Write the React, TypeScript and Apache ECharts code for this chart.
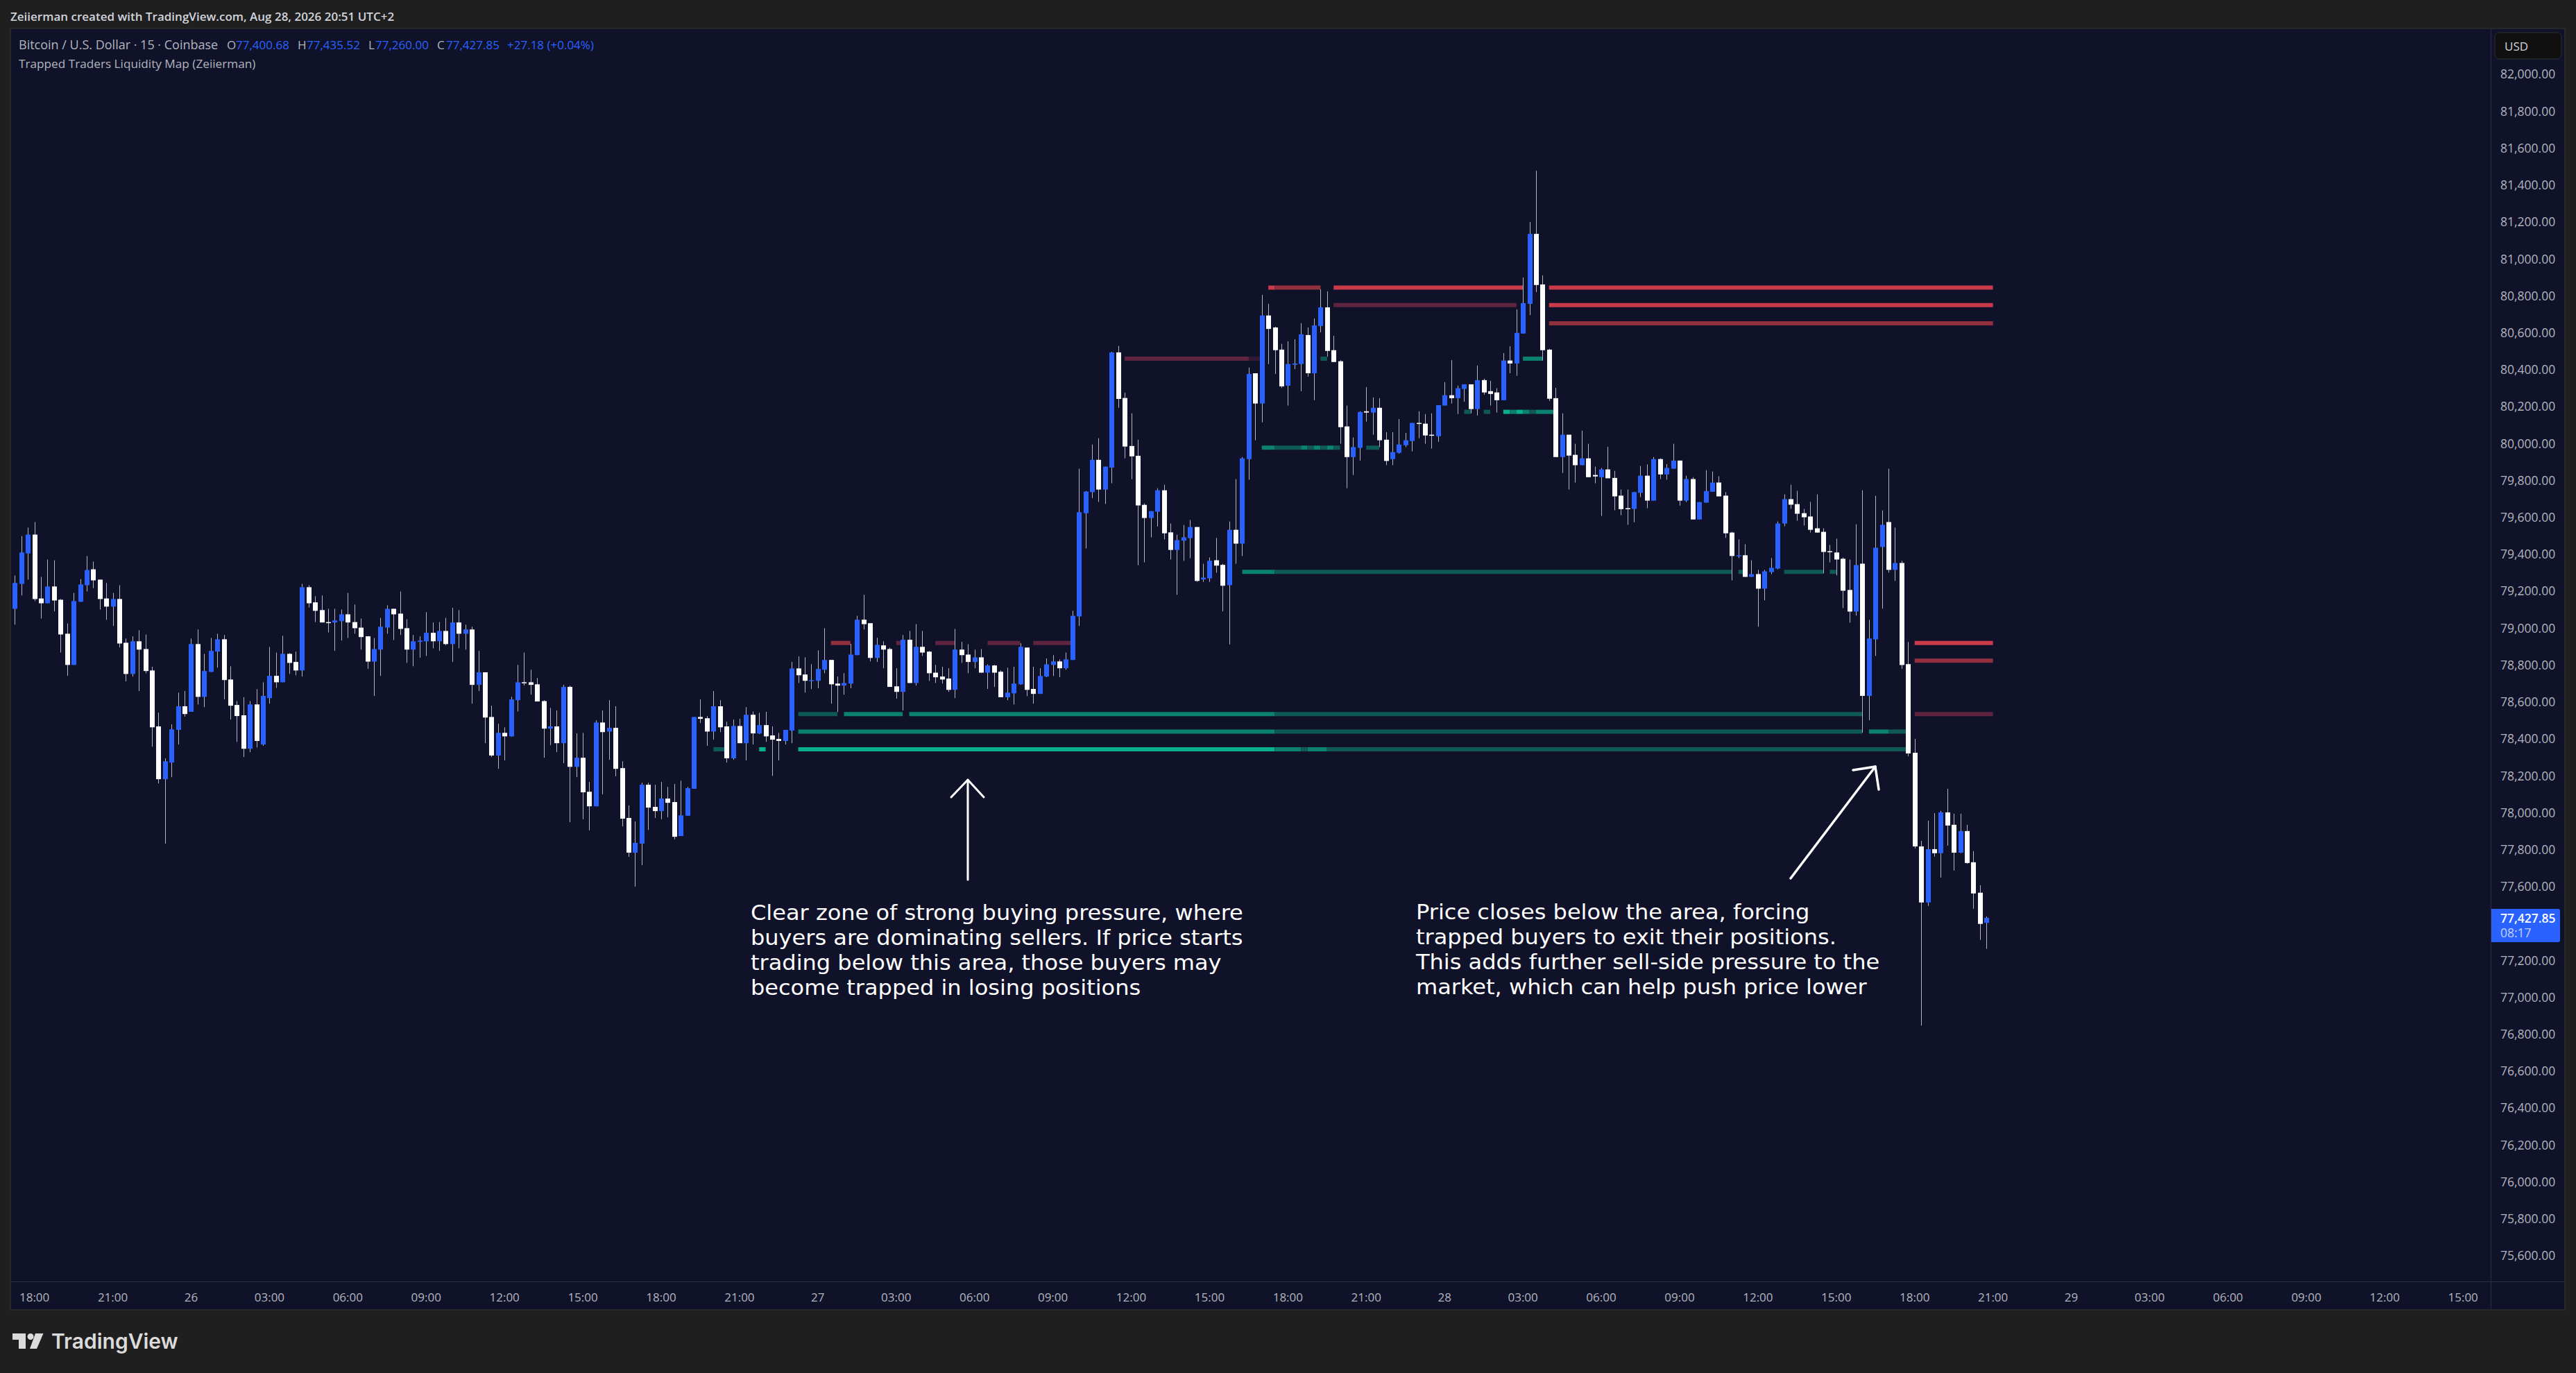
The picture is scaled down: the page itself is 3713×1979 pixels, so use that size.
import { useEffect, useRef } from "react";
import * as echarts from "echarts";

// 15 minute bars
const opens = [
  79102, 79237, 79402, 79504, 79158, 79132, 79223, 79151, 78967, 78798, 79140, 79230, 79316, 79260, 79158, 79114, 79155, 78918, 78749, 78926,
  78884, 78768, 78465, 78179, 78269, 78446, 78574, 78544, 78911, 78625, 78760, 78870, 78937, 78719, 78581, 78525, 78344, 78584, 78367, 78618,
  78739, 78704, 78858, 78814, 78768, 79219, 79137, 79095, 79030, 79028, 79035, 79072, 79030, 79000, 78953, 78816, 78881, 79000, 79102, 79076,
  78997, 78881, 78923, 78926, 78972, 78926, 78982, 78911, 79028, 78967, 78990, 78690, 78758, 78516, 78307, 78430, 78411, 78607, 78704, 78704,
  78693, 78602, 78453, 78465, 78374, 78679, 78246, 78295, 78111, 78032, 78486, 78437, 78457, 78239, 77969, 77781, 77830, 78149, 78029, 78006,
  78074, 78055, 77871, 77981, 78127, 78516, 78509, 78437, 78574, 78465, 78292, 78467, 78374, 78528, 78427, 78472, 78416, 78397, 78386, 78442,
  78779, 78746, 78712, 78712, 78772, 78825, 78697, 78686, 78697, 78851, 79043, 79024, 78836, 78904, 78884, 78682, 78652, 78934, 78700, 78896,
  78870, 78756, 78735, 78724, 78663, 78881, 78854, 78814, 78839, 78756, 78795, 78761, 78623, 78644, 78693, 78892, 78668, 78641, 78735, 78798,
  78817, 78780, 78825, 79061, 79620, 79734, 79909, 79748, 79867, 80491, 80244, 79984, 79931, 79665, 79594, 79628, 79744, 79516, 79421, 79471,
  79485, 79545, 79261, 79267, 79365, 79340, 79230, 79530, 79455, 79913, 80378, 80214, 80691, 80626, 80506, 80311, 80424, 80428, 80585, 80378,
  80634, 80735, 80503, 80443, 80090, 79924, 79974, 80172, 80165, 80191, 80018, 79913, 79947, 79988, 80011, 80109, 80105, 80045, 80037, 80203,
  80259, 80243, 80293, 80318, 80184, 80341, 80281, 80274, 80232, 80447, 80431, 80593, 80754, 81133, 80859, 80506, 80243, 79924, 80045, 79936,
  79880, 79917, 79827, 79815, 79857, 79811, 79715, 79647, 79643, 79730, 79823, 79688, 79913, 79830, 79861, 79905, 79688, 79805, 79586, 79677,
  79736, 79786, 79715, 79515, 79388, 79392, 79275, 79290, 79211, 79301, 79320, 79564, 79696, 79669, 79620, 79602, 79538, 79519, 79414, 79407,
  79373, 79204, 79087, 79346, 78630, 78937, 79437, 79572, 79313, 79350, 78802, 78322, 77815, 77511, 77800, 77778, 77999, 77932, 77781, 77898,
  77729, 77564, 77400.68,
];
const highs = [
  79282, 79496, 79542, 79572, 79275, 79369, 79365, 79155, 79023, 79188, 79263, 79388, 79358, 79260, 79242, 79188, 79230, 78941, 78953, 78986,
  78963, 78788, 78539, 78292, 78476, 78648, 78656, 78941, 78990, 78858, 78944, 78967, 78960, 78791, 78602, 78623, 78602, 78667, 78704, 78895,
  78865, 78956, 78862, 78870, 79237, 79230, 79170, 79174, 79102, 79102, 79098, 79188, 79125, 79049, 78953, 78944, 79053, 79121, 79102, 79196,
  79046, 78960, 78953, 79084, 79028, 79030, 79053, 79107, 79095, 79016, 79005, 78874, 78758, 78577, 78479, 78460, 78625, 78798, 78865, 78772,
  78727, 78607, 78565, 78551, 78690, 78686, 78427, 78430, 78164, 78498, 78551, 78607, 78574, 78276, 78037, 77950, 78160, 78160, 78149, 78164,
  78137, 78153, 78171, 78137, 78516, 78611, 78521, 78656, 78607, 78490, 78502, 78506, 78569, 78546, 78539, 78544, 78465, 78430, 78446, 78814,
  78844, 78839, 78802, 78877, 78997, 78825, 78735, 78753, 78912, 79064, 79178, 79024, 78945, 78926, 78892, 78780, 78960, 78982, 79019, 78982,
  78873, 78798, 78788, 78780, 78993, 78923, 78910, 78881, 78884, 78801, 78798, 78769, 78783, 78788, 78915, 78892, 78788, 78780, 78833, 78851,
  78828, 78865, 79091, 79861, 79740, 79992, 80026, 79872, 80494, 80526, 80273, 80161, 80018, 79673, 79631, 79755, 79774, 79564, 79503, 79556,
  79583, 79545, 79346, 79380, 79486, 79346, 79575, 79805, 79924, 80409, 80378, 80803, 80754, 80630, 80537, 80551, 80562, 80649, 80626, 80675,
  80833, 80822, 80581, 80449, 80203, 80030, 80172, 80303, 80247, 80243, 80059, 80059, 80130, 80055, 80109, 80172, 80157, 80161, 80205, 80330,
  80449, 80311, 80318, 80318, 80420, 80349, 80337, 80297, 80487, 80524, 80724, 80897, 81197, 81475, 80908, 80510, 80299, 80161, 80045, 79996,
  80067, 79996, 79872, 79865, 79980, 79849, 79748, 79748, 79736, 79876, 79884, 79924, 79917, 79886, 79996, 79905, 79823, 79815, 79680, 79853,
  79846, 79820, 79734, 79519, 79478, 79452, 79365, 79313, 79313, 79377, 79575, 79722, 79774, 79741, 79643, 79681, 79722, 79538, 79448, 79482,
  79380, 79369, 79560, 79744, 79042, 79714, 79635, 79861, 79542, 79362, 78922, 78397, 77845, 77954, 77995, 78007, 78127, 77992, 77992, 77932,
  77789, 77605, 77435.52,
];
const lows = [
  79016, 79174, 79260, 79144, 79049, 79132, 79088, 78865, 78739, 78798, 79140, 79196, 79214, 79098, 79042, 79009, 78893, 78709, 78735, 78656,
  78753, 78355, 78156, 77830, 78190, 78367, 78518, 78544, 78584, 78569, 78760, 78783, 78611, 78502, 78381, 78299, 78325, 78351, 78360, 78588,
  78674, 78704, 78749, 78742, 78735, 79109, 79030, 79028, 78974, 78874, 78930, 78944, 78967, 78881, 78776, 78630, 78739, 78967, 78933, 78960,
  78809, 78791, 78837, 78847, 78888, 78874, 78904, 78814, 78888, 78881, 78588, 78656, 78374, 78299, 78235, 78281, 78409, 78546, 78686, 78637,
  78600, 78295, 78363, 78325, 78265, 77946, 78190, 77962, 77902, 78032, 78097, 78284, 78195, 77923, 77758, 77597, 77713, 77904, 77969, 77962,
  77972, 77853, 77871, 77981, 78127, 78483, 78360, 78393, 78434, 78269, 78284, 78374, 78281, 78367, 78423, 78381, 78197, 78281, 78367, 78374,
  78700, 78648, 78667, 78671, 78753, 78588, 78543, 78637, 78671, 78851, 78990, 78817, 78814, 78780, 78679, 78615, 78551, 78700, 78686, 78847,
  78711, 78700, 78697, 78652, 78618, 78809, 78753, 78780, 78756, 78668, 78679, 78623, 78607, 78584, 78690, 78629, 78588, 78641, 78732, 78738,
  78732, 78772, 78825, 79009, 79429, 79702, 79681, 79670, 79782, 80191, 79917, 79804, 79338, 79354, 79489, 79548, 79478, 79369, 79178, 79362,
  79376, 79248, 79248, 79248, 79298, 79088, 78909, 79346, 79388, 79801, 80015, 80112, 80428, 80374, 80298, 80203, 80401, 80281, 80360, 80232,
  80600, 80468, 80439, 79996, 79755, 79827, 79905, 80116, 80045, 79978, 79880, 79880, 79943, 79978, 79955, 80026, 79996, 79970, 80007, 80203,
  80214, 80157, 80224, 80161, 80149, 80262, 80203, 80165, 80232, 80378, 80364, 80593, 80693, 80818, 80447, 80228, 79924, 79838, 79748, 79786,
  79880, 79815, 79782, 79605, 79809, 79636, 79609, 79557, 79571, 79707, 79647, 79688, 79805, 79801, 79861, 79661, 79680, 79586, 79586, 79677,
  79736, 79711, 79486, 79256, 79377, 79275, 79275, 79005, 79148, 79290, 79316, 79549, 79643, 79579, 79553, 79515, 79515, 79294, 79354, 79283,
  79106, 79027, 79065, 78431, 78498, 78847, 79103, 79298, 79253, 78776, 78303, 77804, 76844, 77492, 77759, 77646, 77819, 77684, 77778, 77721,
  77477, 77308, 77260,
];
const closes = [
  79242, 79407, 79504, 79155, 79132, 79223, 79147, 78963, 78798, 79144, 79234, 79312, 79256, 79155, 79114, 79155, 78914, 78749, 78926, 78881,
  78765, 78460, 78179, 78276, 78449, 78574, 78532, 78911, 78625, 78765, 78874, 78937, 78716, 78577, 78521, 78344, 78584, 78386, 78630, 78739,
  78704, 78858, 78809, 78768, 79219, 79132, 79091, 79028, 79028, 79039, 79072, 79028, 78997, 78949, 78816, 78884, 79005, 79102, 79072, 78993,
  78881, 78926, 78930, 78972, 78926, 78982, 78911, 79028, 78967, 78990, 78690, 78758, 78513, 78307, 78430, 78411, 78611, 78704, 78700, 78690,
  78600, 78453, 78465, 78374, 78679, 78246, 78295, 78108, 78032, 78486, 78434, 78457, 78235, 77965, 77781, 77834, 78149, 78025, 78006, 78074,
  78051, 77867, 77983, 78130, 78516, 78506, 78437, 78574, 78460, 78292, 78467, 78374, 78528, 78427, 78472, 78411, 78393, 78386, 78446, 78779,
  78742, 78712, 78716, 78776, 78825, 78693, 78686, 78700, 78854, 79043, 79019, 78836, 78907, 78881, 78679, 78652, 78934, 78700, 78896, 78865,
  78753, 78731, 78719, 78663, 78881, 78851, 78814, 78839, 78756, 78795, 78756, 78623, 78648, 78697, 78896, 78663, 78641, 78738, 78801, 78817,
  78780, 78828, 79064, 79625, 79737, 79909, 79748, 79872, 80491, 80239, 79981, 79928, 79662, 79594, 79631, 79744, 79511, 79421, 79474, 79489,
  79545, 79253, 79271, 79362, 79336, 79227, 79530, 79455, 79917, 80374, 80214, 80691, 80618, 80503, 80307, 80428, 80431, 80589, 80378, 80637,
  80735, 80499, 80439, 80086, 79924, 79978, 80168, 80165, 80191, 80015, 79903, 79951, 79992, 80015, 80109, 80105, 80041, 80041, 80205, 80259,
  80243, 80297, 80318, 80184, 80341, 80274, 80266, 80232, 80447, 80431, 80597, 80758, 81133, 80856, 80503, 80240, 79924, 80045, 79932, 79880,
  79917, 79815, 79819, 79857, 79809, 79711, 79642, 79642, 79734, 79823, 79688, 79913, 79830, 79865, 79905, 79688, 79805, 79586, 79680, 79740,
  79786, 79711, 79511, 79388, 79392, 79275, 79290, 79211, 79305, 79324, 79564, 79696, 79666, 79617, 79598, 79530, 79515, 79410, 79410, 79369,
  79200, 79087, 79339, 78630, 78941, 79433, 79557, 79313, 79350, 78798, 78318, 77815, 77511, 77800, 77778, 77999, 77928, 77781, 77898, 77725,
  77560, 77395, 77427.85,
];

// time axis: one label every 12 bars, starting at bar 3
const timeLabels = [
  "18:00", "21:00", "26", "03:00", "06:00", "09:00", "12:00", "15:00",
  "18:00", "21:00", "27", "03:00", "06:00", "09:00", "12:00", "15:00",
  "18:00", "21:00", "28", "03:00", "06:00", "09:00", "12:00", "15:00",
  "18:00", "21:00", "29", "03:00", "06:00", "09:00", "12:00", "15:00",
];
const slotCount = 380;
const hiddenPrices = [75400, 77400, 82200, 82400];

// liquidity levels: [from bar, to bar, strength]
const buyLevels: [number, [number, number, number][]][] = [
  [78341, [[107, 109, 0], [114, 115, 2], [120, 193, 2], [193, 197, 1], [197, 198, 0], [198, 201, 1], [201, 290, 0]]],
  [78437, [[120, 193, 1], [193, 283, 0], [284, 287, 1], [287, 290, 0]]],
  [78532, [[120, 126, 0], [127, 136, 1], [137, 193, 1], [193, 283, 0]]],
  [79302, [[188, 193, 1], [193, 263, 0], [264, 265, 0], [271, 277, 0], [278, 279, 0]]],
  [79975, [[191, 193, 1], [193, 197, 0], [197, 198, 1], [198, 199, 0], [199, 200, 1], [200, 201, 0], [201, 202, 1], [202, 203, 0], [207, 209, 0]]],
  [80169, [[222, 223, 0], [225, 226, 0], [228, 229, 2], [229, 230, 1], [230, 231, 2], [231, 232, 1], [232, 233, 0], [233, 236, 1]]],
  [80457, [[200, 201, 0], [231, 234, 1]]],
];
const sellLevels: [number, [number, number, number][]][] = [
  [78532, [[291, 303, 0]]],
  [78821, [[291, 303, 1]]],
  [78917, [[125, 128, 1], [135, 136, 0], [141, 144, 0], [149, 154, 0], [156, 162, 0], [291, 303, 2]]],
  [80457, [[170, 189, 0], [189, 191, 3]]],
  [80649, [[235, 303, 1]]],
  [80747, [[202, 230, 0], [235, 303, 2]]],
  [80842, [[192, 193, 2], [193, 200, 1], [202, 231, 2], [235, 303, 2]]],
];
const buyColors = ["#0f5a57", "#0b8270", "#08b08e"];
const sellColors = ["#5f2540", "#93303f", "#c93a4a", "#331a34"];

const BG = "#1f1f1f";
const PANE = "#0f1229";
const FONT = "'Open Sans', sans-serif";
const BLUE = "#2962ff";

function renderCandle(_: any, api: any) {
  const i = api.value(0);
  const open = api.value(1);
  const high = api.value(2);
  const low = api.value(3);
  const close = api.value(4);
  const top = api.coord([i, Math.max(open, close)]);
  const bottom = api.coord([i, Math.min(open, close)]);
  const wickTop = api.coord([i, high]);
  const wickBottom = api.coord([i, low]);
  const x = Math.round(top[0]);
  const h = Math.max(bottom[1] - top[1], 1.5);
  return {
    type: "group",
    children: [
      {
        type: "line",
        shape: { x1: x + 0.5, y1: wickTop[1], x2: x + 0.5, y2: wickBottom[1] },
        style: { stroke: "#b2b5be", lineWidth: 1 },
      },
      {
        type: "rect",
        shape: { x: x - 3, y: top[1], width: 7, height: h },
        style: { fill: close >= open ? BLUE : "#ffffff" },
      },
    ],
  };
}

function levelRenderer(colors: string[]) {
  return (_: any, api: any) => {
    const from = api.coord([api.value(0), api.value(2)]);
    const to = api.coord([api.value(1), api.value(2)]);
    return {
      type: "rect",
      shape: { x: from[0], y: from[1] - 3, width: to[0] - from[0], height: 6 },
      style: { fill: colors[api.value(3)] },
    };
  };
}

function levelData(levels: [number, [number, number, number][]][]) {
  const rows: number[][] = [];
  levels.forEach(([price, segments]) => {
    segments.forEach(([from, to, strength]) => rows.push([from, to, price, strength]));
  });
  return rows;
}

function label(text: string, x: number, y: number, fill: string, fontSize = 17, extra: any = {}) {
  return {
    type: "text",
    z: 20,
    silent: true,
    style: { text, x, y, fill, fontSize, fontFamily: FONT, textVerticalAlign: "middle", ...extra },
  };
}

// note block: DejaVu's line box fits the tight 36px line gap, widened a little to the original width
function note(lines: string[], x: number, y: number) {
  return {
    type: "text",
    z: 20,
    silent: true,
    x,
    y,
    scaleX: 1.04,
    style: {
      text: lines.join("\n"),
      fill: "#ffffff",
      fontSize: 30.8,
      fontFamily: "'DejaVu Sans', sans-serif",
      lineHeight: 36,
      textVerticalAlign: "top",
    },
  };
}

function stroke(points: number[][], width: number) {
  return {
    type: "polyline",
    z: 20,
    silent: true,
    shape: { points },
    style: { stroke: "#ffffff", lineWidth: width, fill: "none", lineCap: "round", lineJoin: "round" },
  };
}

const leftNote = [
  "Clear zone of strong buying pressure, where",
  "buyers are dominating sellers. If price starts",
  "trading below this area, those buyers may",
  "become trapped in losing positions",
];
const rightNote = [
  "Price closes below the area, forcing",
  "trapped buyers to exit their positions.",
  "This adds further sell-side pressure to the",
  "market, which can help push price lower",
];

export default function App() {
  const chartRef = useRef<HTMLDivElement>(null);

  useEffect(() => {
    document.body.style.margin = "0";
    const chart = echarts.init(chartRef.current!, undefined, { renderer: "svg" });

    const categories = Array.from({ length: slotCount }, (_, i) =>
      (i - 3) % 12 === 0 ? timeLabels[(i - 3) / 12] ?? "" : ""
    );
    const candleData = opens.map((o, i) => [i, o, highs[i], lows[i], closes[i]]);

    const graphics: any[] = [
      { type: "rect", z: -10, silent: true, shape: { x: 15, y: 41, width: 3682, height: 1847 }, style: { fill: PANE, stroke: "#2e2e2e", lineWidth: 1.5 } },
      { type: "line", z: -9, silent: true, shape: { x1: 3590.5, y1: 42, x2: 3590.5, y2: 1887 }, style: { stroke: "#2a2e3f", lineWidth: 1 } },
      { type: "line", z: -9, silent: true, shape: { x1: 16, y1: 1847.5, x2: 3696, y2: 1847.5 }, style: { stroke: "#2a2e3f", lineWidth: 1 } },

      label("Zeiierman created with TradingView.com, Aug 28, 2026 20:51 UTC+2", 15, 23, "#d1d4dc", 17, { fontWeight: 600 }),
      label("Bitcoin / U.S. Dollar · 15 · Coinbase", 27, 64, "#b2b5be", 18),
      label("O", 327, 64, "#b2b5be"),
      label("77,400.68", 340, 64, BLUE),
      label("H", 429, 64, "#b2b5be"),
      label("77,435.52", 442, 64, BLUE),
      label("L", 531, 64, "#b2b5be"),
      label("77,260.00", 541, 64, BLUE),
      label("C", 630, 64, "#b2b5be"),
      label("77,427.85", 643, 64, BLUE),
      label("+27.18 (+0.04%)", 731, 64, BLUE),
      label("Trapped Traders Liquidity Map (Zeiierman)", 27, 91, "#b2b5be", 17.2),

      { type: "rect", z: 20, silent: true, shape: { x: 3596, y: 47, width: 96, height: 38, r: 6 }, style: { fill: "#101010", stroke: "#2e2e2e", lineWidth: 1 } },
      label("USD", 3610, 66, "#d1d4dc"),

      { type: "rect", z: 20, silent: true, shape: { x: 3591, y: 1310, width: 99, height: 48, r: [0, 3, 3, 0] }, style: { fill: BLUE } },
      label("77,427.85", 3604, 1323, "#ffffff", 17.5, { fontWeight: 600 }),
      label("08:17", 3604, 1343.5, "#c3d2ff", 17.5),

      stroke([[1395, 1268], [1395, 1124]], 3),
      stroke([[1371, 1149], [1395, 1124], [1418, 1149]], 3),
      stroke([[2581, 1266], [2703, 1105]], 3.5),
      stroke([[2671, 1110], [2703, 1105], [2708, 1138]], 3.5),

      note(leftNote, 1082, 1297),
      note(rightNote, 2041, 1296),

      { type: "polygon", z: 20, silent: true, shape: { points: [[18, 1922], [37, 1922], [37, 1944], [27, 1944], [27, 1931], [18, 1931]] }, style: { fill: "#dbdbdb" } },
      { type: "circle", z: 20, silent: true, shape: { cx: 44, cy: 1926.5, r: 4.5 }, style: { fill: "#dbdbdb" } },
      { type: "polygon", z: 20, silent: true, shape: { points: [[51, 1922], [62.5, 1922], [53, 1944], [43, 1944]] }, style: { fill: "#dbdbdb" } },
      label("TradingView", 74, 1933, "#dbdbdb", 30, { fontFamily: "Inter, sans-serif", fontWeight: 600 }),
    ];

    chart.setOption({
      animation: false,
      backgroundColor: BG,
      textStyle: { fontFamily: FONT },
      graphic: graphics,
      grid: { left: 16.7, width: 3575.8, top: -2.6, height: 1865.1, containLabel: false },
      xAxis: {
        type: "category",
        data: categories,
        boundaryGap: true,
        axisLine: { show: false },
        axisTick: { show: false },
        splitLine: { show: false },
        axisLabel: {
          interval: 0,
          margin: 6.5,
          verticalAlign: "middle",
          color: "#b2b5be",
          fontSize: 17,
          fontFamily: FONT,
        },
      },
      yAxis: {
        type: "value",
        position: "right",
        min: 75400,
        max: 82400,
        interval: 200,
        axisLine: { show: false },
        axisTick: { show: false },
        splitLine: { show: false },
        axisLabel: {
          margin: 11.5,
          color: "#b2b5be",
          fontSize: 17.5,
          fontFamily: FONT,
          showMinLabel: false,
          showMaxLabel: false,
          formatter: (value: number) =>
            hiddenPrices.includes(value)
              ? ""
              : value.toLocaleString("en-US", { minimumFractionDigits: 2, maximumFractionDigits: 2 }),
        },
      },
      series: [
        {
          type: "custom",
          name: "Buy levels",
          z: 2,
          clip: false,
          silent: true,
          renderItem: levelRenderer(buyColors),
          encode: { x: [0, 1], y: 2 },
          data: levelData(buyLevels),
        },
        {
          type: "custom",
          name: "Sell levels",
          z: 2,
          clip: false,
          silent: true,
          renderItem: levelRenderer(sellColors),
          encode: { x: [0, 1], y: 2 },
          data: levelData(sellLevels),
        },
        {
          type: "custom",
          name: "BTCUSD",
          z: 3,
          clip: false,
          silent: true,
          renderItem: renderCandle,
          encode: { x: 0, y: [1, 2, 3, 4] },
          data: candleData,
        },
      ],
    });

    return () => {
      chart.dispose();
    };
  }, []);

  return (
    <div
      ref={chartRef}
      style={{ position: "absolute", left: 0, top: 0, width: 3713, height: 1979 }}
    />
  );
}
